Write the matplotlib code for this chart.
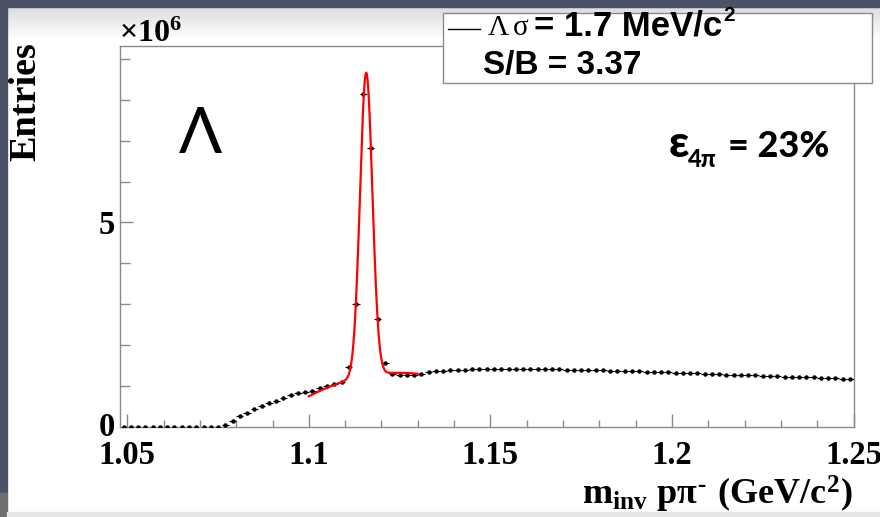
import numpy as np
import matplotlib
matplotlib.use("Agg")
import matplotlib.pyplot as plt
from matplotlib.patches import Rectangle
from matplotlib.lines import Line2D
from matplotlib.ticker import MultipleLocator
from matplotlib.transforms import ScaledTranslation

plt.rcParams["font.family"] = ["Liberation Serif", "DejaVu Serif"]
plt.rcParams["font.weight"] = "bold"
plt.rcParams["mathtext.fontset"] = "custom"
plt.rcParams["mathtext.rm"] = "Liberation Serif:bold"
plt.rcParams["mathtext.it"] = "Liberation Serif:bold"
plt.rcParams["mathtext.bf"] = "Liberation Serif:bold"

# histogram: 2 MeV bins from 1.048 to 1.250 GeV/c^2
bin_lo, bin_hi, n_bins = 1.048, 1.250, 101
# entries per bin, in units of 10^6
entries = [
    0, 0, 0, 0, 0, 0, 0, 0, 0, 0, 0, 0, 0, 0,
    0.04, 0.15, 0.26, 0.34, 0.43, 0.51, 0.58, 0.64, 0.70, 0.77,
    0.82, 0.86, 0.89, 0.95, 1.00, 1.05, 1.11,
    1.46, 3.01, 8.13, 6.81, 2.63, 1.56,
    1.30, 1.28, 1.28, 1.28, 1.30, 1.34, 1.36, 1.38, 1.39, 1.40,
    1.40, 1.41, 1.41, 1.42, 1.42, 1.42, 1.42, 1.42, 1.42, 1.42,
    1.41, 1.41, 1.41, 1.41, 1.40, 1.40, 1.40, 1.39, 1.39, 1.39,
    1.38, 1.38, 1.37, 1.37, 1.36, 1.35, 1.35, 1.34, 1.34, 1.33,
    1.32, 1.32, 1.31, 1.30, 1.30, 1.29, 1.28, 1.28, 1.27, 1.27,
    1.26, 1.25, 1.24, 1.24, 1.23, 1.23, 1.22, 1.21, 1.21, 1.20,
    1.19, 1.19, 1.18, 1.17,
]

# gaussian + pol2 fit shown in red
fit_lo, fit_hi = 1.100, 1.130
fit_mean = 1.1158
fit_sigma = 0.0017
fit_amp = 7.41
bkg_coef = [0.75, 46.3, -933.0]   # in (m - 1.100)

edges = np.linspace(bin_lo, bin_hi, n_bins + 1)
centres = 0.5 * (edges[:-1] + edges[1:])
half_w = 0.5 * (edges[1] - edges[0])

W, H = 880, 517
def fx(px):
    return px / W
def fy(py):
    return 1 - py / H

fig = plt.figure(figsize=(8.8, 5.17), dpi=100, facecolor="white")

# slide background bits
bg = fig.add_axes([0, 0, 1, 1], zorder=-10)
bg.set_xlim(0, W)
bg.set_ylim(H, 0)
bg.axis("off")
grad = np.linspace(0.86, 1.0, 50).reshape(-1, 1)
bg.imshow(grad, cmap="gray", vmin=0, vmax=1, extent=[0, W, 40, 7], aspect="auto")
bg.add_patch(Rectangle((0, 0), W, 7, color="#4b5266"))
bg.add_patch(Rectangle((0, 0), 7, 493, color="#4b5266"))
bg.add_patch(Rectangle((0, 493), 7, 24, color="#6e6e6e"))
bg.add_patch(Rectangle((7, 512), W, 5, color="#e6e6e6"))

ax = fig.add_axes([fx(120), fy(427), fx(853.5) - fx(120), fy(45.7) - fy(427)])
ax.errorbar(centres, entries, xerr=half_w, fmt="o", ms=2.2, color="black",
            elinewidth=0.8, capsize=0, zorder=3)

xf = np.linspace(fit_lo, fit_hi, 400)
u = xf - fit_lo
yf = fit_amp * np.exp(-0.5 * ((xf - fit_mean) / fit_sigma) ** 2) \
    + bkg_coef[0] + bkg_coef[1] * u + bkg_coef[2] * u ** 2
ax.plot(xf, yf, color="red", lw=1.6, zorder=4)

ax.set_xlim(bin_lo, bin_hi)
ax.set_ylim(0, 9.32)
ax.xaxis.set_minor_locator(MultipleLocator(0.01))
ax.yaxis.set_minor_locator(MultipleLocator(1))
ax.set_xticks([1.05, 1.1, 1.15, 1.2, 1.25])
ax.set_xticklabels(["1.05", "1.1", "1.15", "1.2", "1.25"])
ax.set_yticks([0, 5])
ax.set_yticklabels(["0", "5"])
ax.set_xlim(bin_lo, bin_hi)
for s in ax.spines.values():
    s.set_color("#8a8a8a")
    s.set_linewidth(1.0)
ax.tick_params(axis="x", which="major", direction="in", length=9.5, width=1,
               color="#8a8a8a", labelsize=23.5, pad=9)
ax.tick_params(axis="x", which="minor", direction="in", length=4.8, width=1,
               color="#8a8a8a")
ax.tick_params(axis="y", which="major", direction="in", length=9, width=1,
               color="#8a8a8a", labelsize=23.5, pad=3.6)
ax.tick_params(axis="y", which="minor", direction="in", length=7.2, width=1,
               color="#8a8a8a")
zero_lab = ax.get_yticklabels()[0]
zero_lab.set_transform(zero_lab.get_transform() + ScaledTranslation(0, 2 / 72, fig.dpi_scale_trans))

# axis titles
fig.text(fx(26), fy(102), "Entries", rotation=90, ha="center", va="center", size=27.5)
fig.text(fx(119), fy(42), r"$\times10^{6}$", ha="left", va="baseline", size=23)
fig.text(fx(853), fy(505), "$m_{inv}\\ p\\pi^{\u2010}\\ (GeV/c^{2})$", ha="right",
         va="baseline", size=26)

# legend box
fig.add_artist(Rectangle((fx(443.3), fy(83.3)), fx(871.7) - fx(443.3), fy(12.7) - fy(83.3),
                         transform=fig.transFigure, facecolor="white",
                         edgecolor="#8a8a8a", lw=1, zorder=5))
fig.add_artist(Line2D([fx(448), fx(480)], [fy(29.3), fy(29.3)], color="black", lw=1, zorder=6))
sans = ["Liberation Sans", "DejaVu Sans"]
fig.text(fx(488), fy(35), "Λ", ha="left", va="baseline", size=21, weight="normal", zorder=7)
fig.text(fx(513), fy(35), "σ", ha="left", va="baseline", size=21, weight="normal", zorder=7)
fig.text(fx(534), fy(35), "= 1.7 MeV/c", ha="left", va="baseline", size=25,
         family=sans, weight="bold", zorder=7)
fig.text(fx(723), fy(21), "2", ha="left", va="baseline", size=15,
         family=sans, weight="bold", zorder=7)
fig.text(fx(483), fy(74), "S/B = 3.37", ha="left", va="baseline", size=24,
         family=sans, weight="bold", zorder=7)

# annotations
fig.text(fx(200), fy(153), "Λ", ha="center", va="baseline", size=46,
         family=["Lato", "DejaVu Sans"], weight="normal")
fig.text(fx(669), fy(157.3), "ε", ha="left", va="baseline", size=32,
         family=["Lato", "DejaVu Sans"], weight=900)
fig.text(fx(688), fy(167), "4π", ha="left", va="baseline", size=17,
         family=["Lato", "DejaVu Sans"], weight=900)
fig.text(fx(728), fy(157.3), "= 23%", ha="left", va="baseline", size=26,
         family=["Lato", "DejaVu Sans"], weight=900)

fig.savefig("out.png", dpi=100, facecolor=fig.get_facecolor())
